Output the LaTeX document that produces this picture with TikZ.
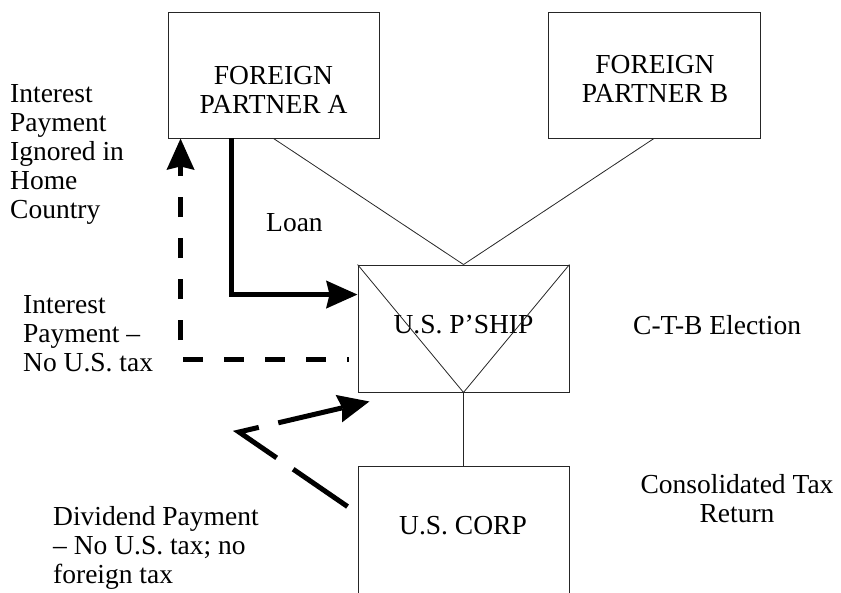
\documentclass[tikz,border=0pt]{standalone}
\usepackage{fontspec}
\setmainfont{Liberation Serif}
\usetikzlibrary{arrows.meta,calc}
\begin{document}
\begin{tikzpicture}[x=1pt,y=-1pt,
  box/.style={draw=black!85, line width=0.9pt, rectangle, inner sep=0pt},
  lbl/.style={inner sep=0pt, font=\fontsize{27.5}{29}\selectfont},
  thinline/.style={draw=black!85, line width=0.8pt},
  flow/.style={line width=5pt, -{Stealth[length=31pt,width=27pt,inset=3pt]}},
]
\useasboundingbox (0,0) rectangle (841,592);
\clip (0,0) rectangle (841,592);

% entities
\node[box, minimum width=211pt, minimum height=126pt] (A) at (273.5,75) {};
\node[box, minimum width=212pt, minimum height=126pt] (B) at (654,75) {};
\node[box, minimum width=211pt, minimum height=127pt] (P) at (463.5,328.5) {};
\node[box, minimum width=211pt, minimum height=140pt] (C) at (463.5,536) {};

% entity names (multi-line nodes are placed by the baseline of their last line)
\node[lbl, align=center, anchor=base] (tA) at (273.5,113) {FOREIGN\\PARTNER A};
\node[lbl, align=center, anchor=base] (tB) at (655,102) {FOREIGN\\PARTNER B};
\node[lbl, anchor=base] (tP) at (463.5,333) {U.S. P’SHIP};
\node[lbl, anchor=base] (tC) at (463,534) {U.S. CORP};

% ownership lines
\draw[thinline] (A.south) -- (P.north);
\draw[thinline] (B.south) -- (P.north);
\draw[thinline] (P.north west) -- (P.south) -- (P.north east);
\draw[thinline] (P.south) -- (C.north);

% loan
\coordinate (loanStart) at ($(A.south west)+(64,0)$);
\coordinate (loanEnd) at ($(P.north west)+(0,30)$);
\draw[flow] (loanStart) |- (loanEnd);

% interest payment
\coordinate (intStart) at ($(P.west)+(-9,30.5)$);
\coordinate (intEnd) at ($(A.south west)+(13,0)$);
\draw[flow, dash pattern=on 20pt off 21pt, dash phase=18pt] (intStart) -| (intEnd);

% dividend payment
\coordinate (divStart) at ($(C.north west)+(-10,41)$);
\coordinate (divBend) at (239,432);
\coordinate (divEnd) at ($(P.south west)+(12,9)$);
\draw[flow, dash pattern=on 66pt off 20pt] (divStart) -- (divBend) -- (divEnd);

% annotations
\node[lbl, align=left, anchor=base west] (home) at (10,218)
  {Interest\\Payment\\Ignored in\\Home\\Country};
\node[lbl, anchor=base west] (loan) at (266,231) {Loan};
\node[lbl, align=left, anchor=base west] (ustax) at (23,371)
  {Interest\\Payment –\\No U.S. tax};
\node[lbl, anchor=base west] (ctb) at (633,334) {C-T-B Election};
\node[lbl, align=center, anchor=base] (cons) at (737,522)
  {Consolidated Tax\\Return};
\node[lbl, align=left, anchor=base west] (div) at (53,583)
  {Dividend Payment\\– No U.S. tax; no\\foreign tax};
\end{tikzpicture}
\end{document}
